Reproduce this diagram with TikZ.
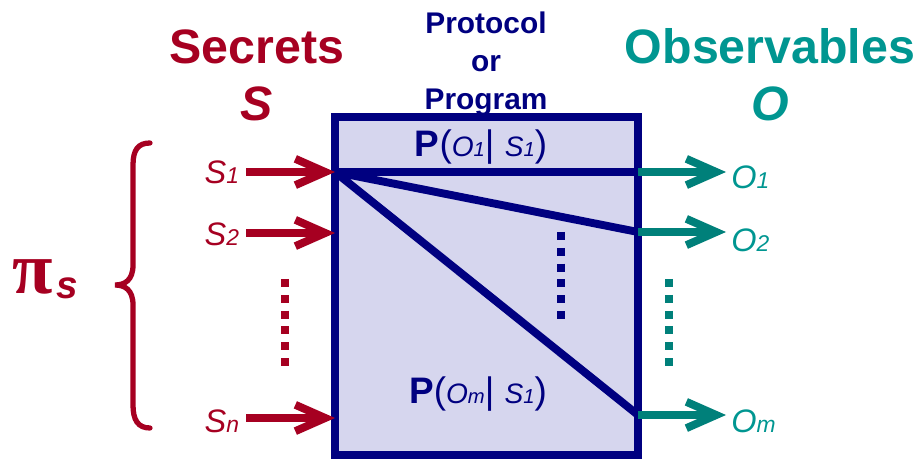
\documentclass[tikz,border=0pt]{standalone}
\usepackage{fontspec}
\setmainfont{Liberation Sans}
\newfontfamily\greekfont{Liberation Serif}
\usepackage{xcolor}
\usetikzlibrary{arrows.meta}

\definecolor{secretred}{RGB}{166,0,33}
\definecolor{obsteal}{RGB}{0,150,145}
\definecolor{arrowteal}{RGB}{0,128,122}
\definecolor{progblue}{RGB}{0,0,128}
\definecolor{progfill}{RGB}{214,214,238}

% smaller index digit/letter, kept on the baseline
\newcommand{\smallidx}[2][13]{{\fontsize{#1}{#1}\selectfont #2}}
% P(o|s) label inside the box
\newcommand{\cprob}[2]{{\fontsize{21}{21}\selectfont\textbf{P}(}{\fontsize{16}{16}\selectfont\itshape #1}{\fontsize{21}{21}\selectfont| }{\fontsize{16}{16}\selectfont\itshape #2}{\fontsize{21}{21}\selectfont)}}

\begin{document}
\begin{tikzpicture}[x=0.02cm, y=-0.02cm,
  flow/.style={line width=4.5pt, -{Straight Barb[length=17pt,width=15pt]}},
  secretlbl/.style={inner sep=0pt, outer sep=4pt, text=secretred, anchor=base east, font=\fontsize{18.5}{18.5}\selectfont\itshape},
  obslbl/.style={inner sep=0pt, outer sep=3pt, text=obsteal, anchor=base west, font=\fontsize{18.5}{18.5}\selectfont\itshape},
  vdots/.style={line width=4.5pt, dash pattern=on 4.5pt off 4.5pt},
  heading/.style={font=\fontsize{27.5}{33}\selectfont\bfseries, align=center, anchor=base}]

\useasboundingbox (0,0) rectangle (915,462);

% Protocol box
\draw[progblue, line width=4pt, fill=progfill] (335,117) rectangle (638,455);

% Entry and exit points on the box
\coordinate (in1) at (335,172);
\coordinate (in2) at (335,233);
\coordinate (inn) at (335,418);
\coordinate (out1) at (638,172);
\coordinate (out2) at (638,232);
\coordinate (outm) at (638,415);

% Channel lines
\draw[progblue, line width=4.5pt] (in1) -- (out1) (in1) -- (out2) (in1) -- (outm);
\draw[progblue, vdots] (561,232) -- (561,320);

% Headings (base = last line)
\node[heading, text=secretred] (secrets) at (257,121) {Secrets\\\textit{S}};
\node[heading, text=obsteal] (observables) at (770,121) {Observables\\\textit{O}};
\node[text=progblue, font=\fontsize{17}{21.8}\selectfont\bfseries, align=center, anchor=base] (protocol) at (486,110) {Protocol\\or\\Program};

% Conditional probabilities
\node[text=progblue, anchor=base] (p1) at (481,157) {\cprob{O\smallidx[11.5]{1}}{S\smallidx[11.5]{1}}};
\node[text=progblue, anchor=base] (pm) at (478,403) {\cprob{O\smallidx[11.5]{m}}{S\smallidx[11.5]{1}}};

% Secrets
\node[secretlbl] (s1) at (246,184) {S\smallidx{1}};
\node[secretlbl] (s2) at (246,246) {S\smallidx{2}};
\node[secretlbl] (sn) at (246,432) {S\smallidx{n}};
\draw[flow, secretred] (s1.east |- in1) -- (in1);
\draw[flow, secretred] (s2.east |- in2) -- (in2);
\draw[flow, secretred] (sn.east |- inn) -- (inn);
\draw[secretred, vdots] (285,279) -- (285,367);

% Observables
\node[obslbl] (o1) at (726,189) {O\smallidx{1}};
\node[obslbl] (o2) at (726,252) {O\smallidx{2}};
\node[obslbl] (om) at (726,432) {O\smallidx{m}};
\draw[flow, arrowteal] (out1) -- (out1 -| o1.west);
\draw[flow, arrowteal] (out2) -- (out2 -| o2.west);
\draw[flow, arrowteal] (outm) -- (outm -| om.west);
\draw[arrowteal, vdots] (669,279) -- (669,367);

% Prior brace
\draw[secretred, line width=3pt, line cap=round]
  (150,143) .. controls (138,143) and (133,150) .. (133,165) -- (133,265)
  .. controls (133,280) and (125,285) .. (115,285)
  .. controls (125,285) and (133,290) .. (133,305) -- (133,405)
  .. controls (133,420) and (138,428) .. (150,428);
\node[text=secretred, anchor=base west, inner sep=0pt] (prior) at (12,294)
  {{\greekfont\bfseries\fontsize{42}{42}\selectfont π}\kern2pt\raisebox{-2.5pt}{\bfseries\itshape\fontsize{22}{22}\selectfont s}};

\end{tikzpicture}
\end{document}
